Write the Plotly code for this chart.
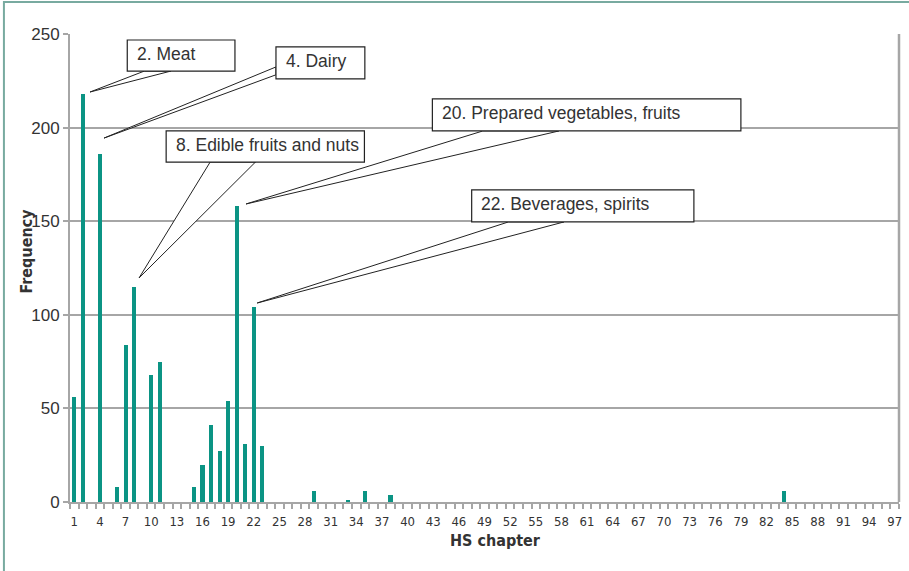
import plotly.graph_objects as go

# ---- data ----
chapters = list(range(1, 98))
frequency = [
    56, 218, 0, 186, 0, 8, 84, 115, 0, 68,      # 1-10
    75, 0, 0, 0, 8, 20, 41, 27, 54, 158,        # 11-20
    31, 104, 30, 0, 0, 0, 0, 0, 6, 0,           # 21-30
    0, 0, 1, 0, 6, 0, 0, 4, 0, 0,               # 31-40
    0, 0, 0, 0, 0, 0, 0, 0, 0, 0,               # 41-50
    0, 0, 0, 0, 0, 0, 0, 0, 0, 0,               # 51-60
    0, 0, 0, 0, 0, 0, 0, 0, 0, 0,               # 61-70
    0, 0, 0, 0, 0, 0, 0, 0, 0, 0,               # 71-80
    0, 0, 0, 6, 0, 0, 0, 0, 0, 0,               # 81-90
    0, 0, 0, 0, 0, 0, 0,                        # 91-97
]
tick_values = list(range(1, 98, 3))
tick_labels = [str(v) for v in tick_values]
y_ticks = [0, 50, 100, 150, 200, 250]

callout_labels = ["2. Meat", "4. Dairy", "8. Edible fruits and nuts",
                  "20. Prepared vegetables, fruits", "22. Beverages, spirits"]
callout_chapters = [2, 4, 8, 20, 22]

# ---- layout geometry for callouts (data units) ----
callout_geom = [
    dict(box=(7.2, 19.8, 230.2, 246.8), base=[(9.2, 230.2), (12.3, 230.2)], tip=(0.84, 1.0)),
    dict(box=(24.6, 35.0, 226.0, 243.1), base=[(24.6, 232.4), (24.6, 228.2)], tip=(0.48, 8.4)),
    dict(box=(11.75, 34.95, 181.6, 198.2), base=[(16.9, 181.6), (22.2, 181.6)], tip=(0.58, 4.7)),
    dict(box=(42.9, 79.0, 198.2, 215.3), base=[(48.8, 198.2), (57.7, 198.2)], tip=(1.1, 1.2)),
    dict(box=(47.5, 73.5, 149.6, 166.7), base=[(51.8, 149.6), (58.3, 149.6)], tip=(0.4, 2.3)),
]

BAR = "#0b9484"
GRID = "#a6a6a6"
TXT = "#333333"
NARROW = "Liberation Sans Narrow, DejaVu Sans Condensed, Arial Narrow, sans-serif"
REG = "Liberation Sans, Arial, sans-serif"

fig = go.Figure(go.Bar(x=chapters, y=frequency, width=0.48,
                       marker=dict(color=BAR, line=dict(width=0)),
                       hoverinfo="x+y"))

shapes = []
annotations = []
for lab, ch, g in zip(callout_labels, callout_chapters, callout_geom):
    val = frequency[chapters.index(ch)]
    tx, ty = ch + g["tip"][0], val + g["tip"][1]
    (b1x, b1y), (b2x, b2y) = g["base"]
    shapes.append(dict(type="path", xref="x", yref="y", layer="above",
                       path=f"M {b1x} {b1y} L {tx} {ty} L {b2x} {b2y} Z",
                       fillcolor="white", line=dict(color="#222222", width=1)))
    x0, x1, y0, y1 = g["box"]
    shapes.append(dict(type="rect", xref="x", yref="y", layer="above",
                       x0=x0, x1=x1, y0=y0, y1=y1,
                       fillcolor="white", line=dict(color="#222222", width=1.2)))
    annotations.append(dict(x=x0 + 0.9, y=(y0 + y1) / 2 + 1.0, xref="x", yref="y",
                            text=lab, showarrow=False, xanchor="left", yanchor="middle",
                            font=dict(family=REG, size=17.5, color=TXT)))

# outer frame
shapes.append(dict(type="rect", xref="paper", yref="paper",
                   x0=-0.0797, x1=1.02, y0=-0.16, y1=1.0684,
                   line=dict(color="#78aaa0", width=2), fillcolor="rgba(0,0,0,0)",
                   layer="below"))

annotations.append(dict(x=-0.052, y=0.537, xref="paper", yref="paper",
                        text="<b>Frequency</b>", textangle=-90, showarrow=False,
                        xanchor="center", yanchor="middle",
                        font=dict(family=NARROW, size=16, color=TXT)))
annotations.append(dict(x=0.513, y=-0.083, xref="paper", yref="paper",
                        text="<b>HS chapter</b>", showarrow=False,
                        xanchor="center", yanchor="middle",
                        font=dict(family=NARROW, size=16, color=TXT)))

fig.update_layout(
    width=909, height=571,
    margin=dict(l=70, r=10, t=34, b=69),
    paper_bgcolor="white", plot_bgcolor="white",
    showlegend=False, bargap=0,
    shapes=shapes, annotations=annotations,
    xaxis=dict(range=[0.5, 97.5], tickvals=tick_values, ticktext=tick_labels,
               ticks="", showgrid=False, zeroline=False, automargin=False,
               showline=True, linecolor=GRID, linewidth=2,
               ticklabelstandoff=6,
               tickfont=dict(family=NARROW, size=13, color=TXT),
               minor=dict(tick0=0.5, dtick=1, ticks="outside", ticklen=5,
                          tickcolor=GRID, tickwidth=1.5, showgrid=False),
               mirror=False),
    yaxis=dict(range=[0, 250], tickvals=y_ticks, ticks="outside", ticklen=5,
               tickcolor=GRID, tickwidth=1.5, automargin=False,
               showgrid=True, gridcolor=GRID, gridwidth=1.5, zeroline=False,
               showline=True, linecolor=GRID, linewidth=2,
               tickfont=dict(family=REG, size=17, color=TXT)),
)
# right border of plot area
fig.add_shape(type="line", xref="paper", yref="paper", x0=1, x1=1, y0=0, y1=1,
              line=dict(color=GRID, width=2.5))

fig.write_html("out.html", config={"displayModeBar": False},
               post_script="document.body.style.margin='0';document.body.style.overflow='hidden';")
